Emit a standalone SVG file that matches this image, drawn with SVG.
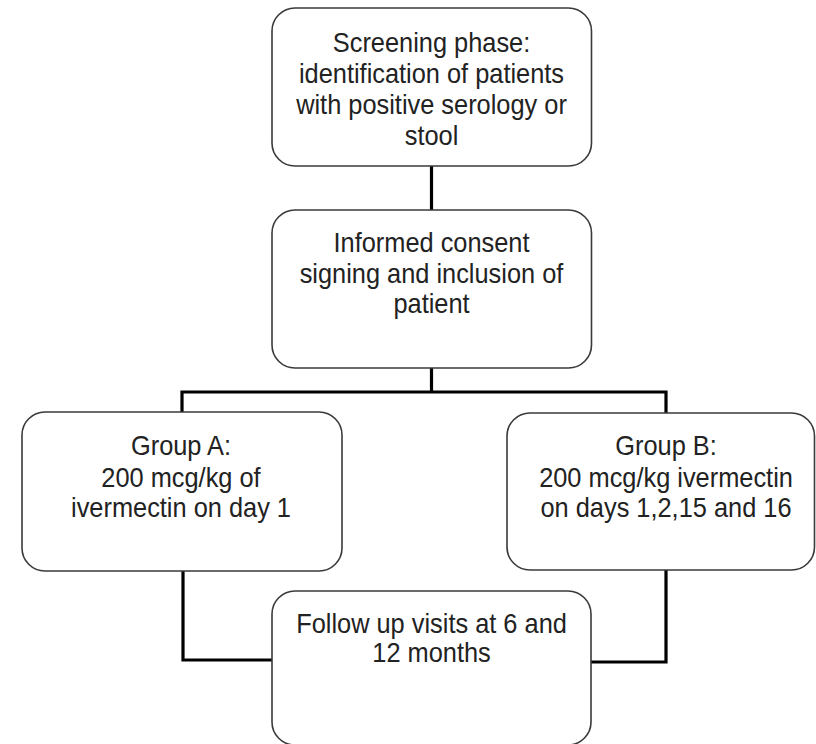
<svg xmlns="http://www.w3.org/2000/svg" width="816" height="744" viewBox="0 0 816 744">
<style>
.box{fill:#fff;stroke:#3a3a3a;stroke-width:1.6}
.t{font-family:"Liberation Sans",Arial,sans-serif;font-size:27px;fill:#222;text-anchor:middle}
.c{fill:none;stroke:#000;stroke-width:3.2;stroke-linejoin:miter}
</style>
<rect width="816" height="744" fill="#fff"/>
<g id="connectors">
<line class="c" x1="431.5" y1="166" x2="431.5" y2="211"/>
<polyline class="c" points="182,412 182,392 666,392 666,413"/>
<line class="c" x1="431.5" y1="368" x2="431.5" y2="392"/>
<polyline class="c" points="183,571 183,660 272,660"/>
<polyline class="c" points="666,570 666,662 591,662"/>
</g>
<g id="screening">
<rect class="box" x="272" y="8" width="319.5" height="158" rx="23"/>
<g transform="translate(431.5,0) scale(0.94,1)">
<text class="t" x="0" y="52">Screening phase:</text>
<text class="t" x="0" y="83">identification of patients</text>
<text class="t" x="0" y="114">with positive serology or</text>
<text class="t" x="0" y="145">stool</text>
</g>
</g>
<g id="consent">
<rect class="box" x="272" y="210" width="319.5" height="158" rx="23"/>
<g transform="translate(431.5,0) scale(0.94,1)">
<text class="t" x="0" y="252">Informed consent</text>
<text class="t" x="0" y="283">signing and inclusion of</text>
<text class="t" x="0" y="313">patient</text>
</g>
</g>
<g id="groupA">
<rect class="box" x="22" y="412" width="320" height="159" rx="23"/>
<g transform="translate(181,0) scale(0.94,1)">
<text class="t" x="0" y="455">Group A:</text>
<text class="t" x="0" y="487">200 mcg/kg of</text>
<text class="t" x="0" y="517">ivermectin on day 1</text>
</g>
</g>
<g id="groupB">
<rect class="box" x="507" y="413" width="307.5" height="157" rx="23"/>
<g transform="translate(666,0) scale(0.94,1)">
<text class="t" x="0" y="455">Group B:</text>
<text class="t" x="0" y="487">200 mcg/kg ivermectin</text>
<text class="t" x="0" y="517">on days 1,2,15 and 16</text>
</g>
</g>
<g id="followup">
<rect class="box" x="272" y="591" width="319" height="154" rx="23"/>
<g transform="translate(431.5,0) scale(0.94,1)">
<text class="t" x="0" y="633">Follow up visits at 6 and</text>
<text class="t" x="0" y="662">12 months</text>
</g>
</g>
</svg>
